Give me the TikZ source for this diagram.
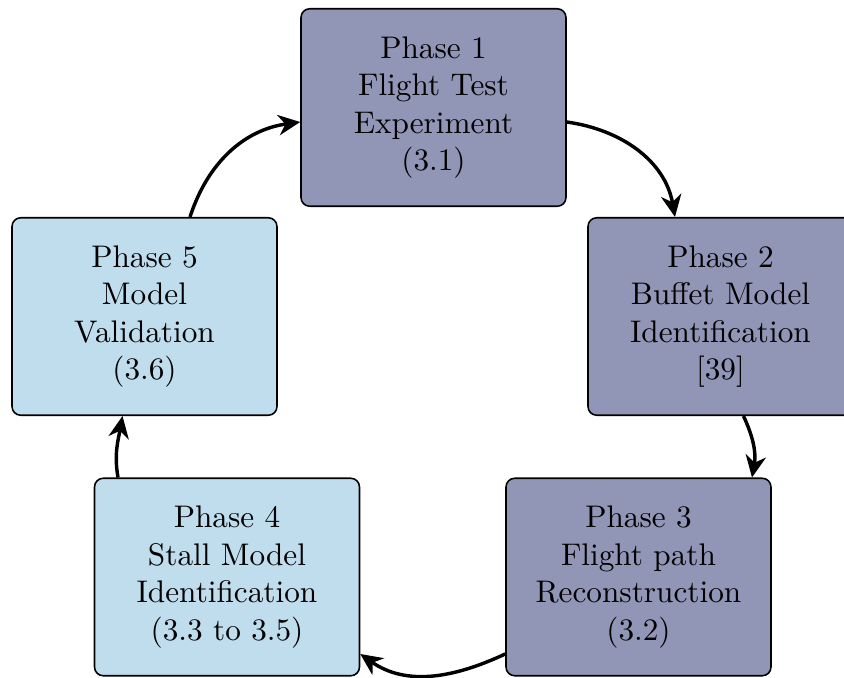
\documentclass[tikz,border=0pt]{standalone}
\usetikzlibrary{arrows.meta,calc}
\definecolor{darkbox}{RGB}{146,150,182}
\definecolor{lightbox}{RGB}{192,221,238}
\begin{document}
\begin{tikzpicture}[x=0.32pt,y=0.32pt,
  phasebox/.style={draw=black, line width=0.5pt, rounded corners=2.8pt, align=center,
    minimum width=84.8pt, minimum height=63.2pt, inner sep=2pt},
  darkph/.style={phasebox, fill=darkbox},
  lightph/.style={phasebox, fill=lightbox},
  flow/.style={line width=1.1pt, -{Stealth[length=7pt,width=6.5pt,inset=2.2pt]}}]
\useasboundingbox (0,0) rectangle (844,677);
\node[darkph] (p1) at (433.5,569.5) {Phase 1\\Flight Test\\Experiment\\(3.1)};
\node[darkph] (p2) at (720.5,360.5) {Phase 2\\Buffet Model\\Identification\\{[39]}};
\node[darkph] (p3) at (638.5,100) {Phase 3\\Flight path\\Reconstruction\\(3.2)};
\node[lightph] (p4) at (227,100) {Phase 4\\Stall Model\\Identification\\(3.3 to 3.5)};
\node[lightph] (p5) at (144.5,360.5) {Phase 5\\Model\\Validation\\(3.6)};
\draw[flow] ($(p1.east)+(0,-14.5)$) to[out=-8,in=100] ($(p2.north)+(-45.5,0)$);
\draw[flow] ($(p2.south)+(23,0)$) to[out=-65,in=80] ($(p3.north)+(113.5,0)$);
\draw[flow] ($(p3.west)+(0,-77)$) to[out=-155,in=-35] ($(p4.east)+(0,-77)$);
\draw[flow] ($(p4.north)+(-109,0)$) to[out=100,in=-100] ($(p5.south)+(-22,0)$);
\draw[flow] ($(p5.north)+(45.5,0)$) to[out=72,in=188] ($(p1.west)+(0,-14.5)$);
\end{tikzpicture}
\end{document}
